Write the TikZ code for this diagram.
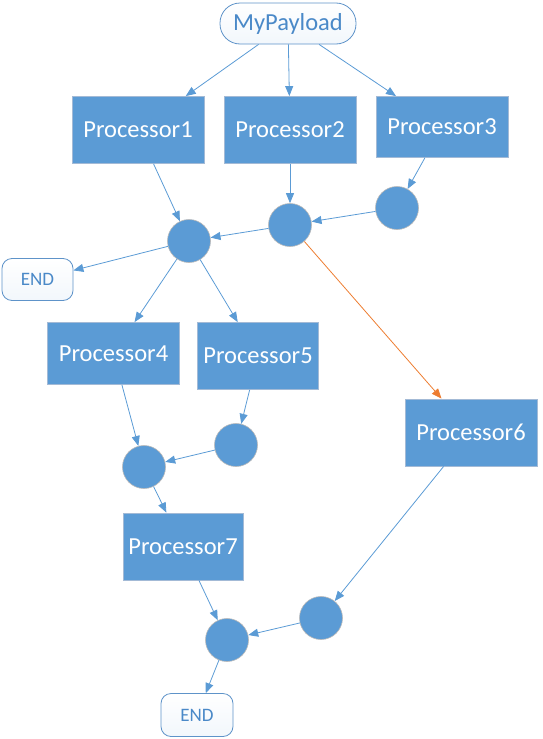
\documentclass[tikz,border=0pt]{standalone}
\usepackage{fontspec}
\setmainfont{Carlito}
\usetikzlibrary{arrows.meta}
\definecolor{boxblue}{HTML}{5B9BD5}
\definecolor{boxedge}{HTML}{A3BAD6}
\definecolor{termedge}{HTML}{5E93C9}
\definecolor{termtext}{HTML}{4A89C8}
\definecolor{floworange}{HTML}{ED7D31}
\tikzset{
  proc/.style={rectangle, fill=boxblue, draw=boxedge, line width=0.8pt, text=white,
    font=\fontsize{24.5}{27}\selectfont, inner sep=0pt},
  hub/.style={circle, fill=boxblue, draw=black!28, line width=0.6pt, minimum size=43pt, inner sep=0pt},
  term/.style={rectangle, rounded corners=10pt, top color=white, bottom color=boxblue!8,
    draw=termedge, line width=0.8pt, text=termtext, inner sep=0pt, font=\fontsize{19}{21}\selectfont},
  flow/.style={draw=boxblue, line width=0.8pt, -{Triangle[length=10pt,width=8pt]}},
}
\begin{document}
\begin{tikzpicture}[x=1pt,y=-1pt]
\useasboundingbox (0,0) rectangle (542,739);
% payload and first stage
\node[term, rounded corners=20pt, minimum width=136pt, minimum height=41pt,
  font=\fontsize{24.5}{27}\selectfont] (pay) at (288,23.5) {MyPayload};
\node[proc, minimum width=132pt, minimum height=67pt] (p1) at (138,130) {Processor1};
\node[proc, minimum width=132pt, minimum height=67pt] (p2) at (290,130) {Processor2};
\node[proc, minimum width=132pt, minimum height=61pt] (p3) at (442,127) {Processor3};
\node[hub] (c3) at (397,208) {};
\node[hub] (c2) at (290,225) {};
\node[hub] (c1) at (189,241) {};
\node[term, minimum width=71pt, minimum height=42pt] (end1) at (37.5,279.5) {END};
% second stage
\node[proc, minimum width=132pt, minimum height=62pt] (p4) at (113.5,353.5) {Processor4};
\node[proc, minimum width=121pt, minimum height=67pt] (p5) at (258,356) {Processor5};
\node[proc, minimum width=132pt, minimum height=67pt] (p6) at (471,432.5) {Processor6};
\node[hub] (c4) at (236,445) {};
\node[hub] (c5) at (144,467) {};
\node[proc, minimum width=120pt, minimum height=67pt] (p7) at (183,546.5) {Processor7};
\node[hub] (c6) at (321,618) {};
\node[hub] (c7) at (227,640) {};
\node[term, minimum width=72pt, minimum height=43pt] (end2) at (197,715) {END};
% connectors
\foreach \a/\b in {pay/p1, pay/p2, pay/p3, p1/c1, p2/c2, p3/c3, c3/c2, c2/c1, c1/end1,
  c1/p4, c1/p5, p4/c5, p5/c4, c4/c5, c5/p7, p7/c7, p6/c6, c6/c7, c7/end2}
  \draw[flow] (\a) -- (\b);
\draw[flow, draw=floworange] (c2) -- (p6);
\end{tikzpicture}
\end{document}
